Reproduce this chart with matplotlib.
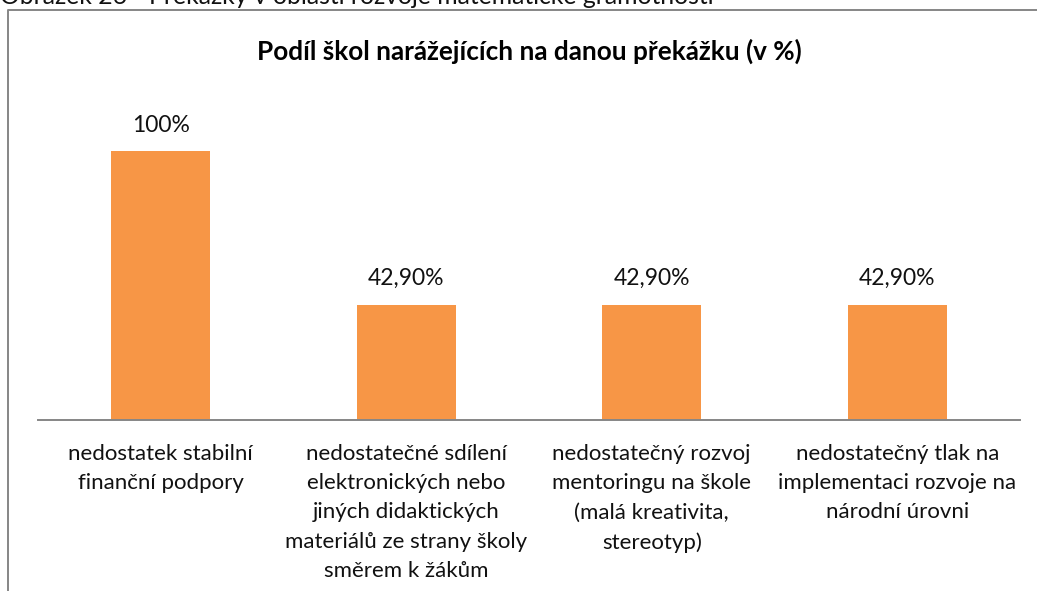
import matplotlib
matplotlib.use('Agg')
import matplotlib.pyplot as plt
from matplotlib.lines import Line2D

plt.rcParams['font.family'] = ['Lato', 'DejaVu Sans']

CAPTION = 'Obrázek 26 - Překážky v oblasti rozvoje matematické gramotnosti'
TITLE = 'Podíl škol narážejících na danou překážku (v %)'
categories = [
    'nedostatek stabilní\nfinanční podpory',
    'nedostatečné sdílení\nelektronických nebo\njiných didaktických\nmateriálů ze strany školy\nsměrem k žákům',
    'nedostatečný rozvoj\nmentoringu na škole\n(malá kreativita,\nstereotyp)',
    'nedostatečný tlak na\nimplementaci rozvoje na\nnárodní úrovni',
]
values = [100, 42.9, 42.9, 42.9]
value_labels = ['100%', '42,90%', '42,90%', '42,90%']

BAR_COLOR = '#F79646'
GREY = '#868686'
W, H = 1037, 591

fig = plt.figure(figsize=(W / 100, H / 100), dpi=100)

# outer frame of the chart object (cut off at right and bottom)
fig.add_artist(Line2D([8 / W, 8 / W, 1.0], [0.0, 1 - 10 / H, 1 - 10 / H],
                      transform=fig.transFigure, color=GREY, lw=1.4))
fig.text(0 / W, 1 - 4 / H, CAPTION, fontsize=17.8, ha='left', va='baseline', color='#111111')
fig.text(529 / W, 1 - 51 / H, TITLE, fontsize=18.8, fontweight='bold', ha='center', va='center')

ax = fig.add_axes([38 / W, (H - 420) / H, 982 / W, 323 / H])
x = range(len(values))
bars = ax.bar(x, values, width=0.403, color=BAR_COLOR)
ax.set_xlim(-0.5, len(values) - 0.5)
ax.set_ylim(0, 120)

for b, lab in zip(bars, value_labels):
    ax.annotate(lab, (b.get_x() + b.get_width() / 2, b.get_height()),
                xytext=(0, 11), textcoords='offset points',
                ha='center', va='bottom', fontsize=16.5, color='#111111')

ax.set_xticks(list(x))
ax.set_xticklabels(categories, fontsize=16, linespacing=1.59, color='#111111')
ax.tick_params(axis='x', length=0, pad=17)
ax.set_yticks([])
for s in ['left', 'right', 'top']:
    ax.spines[s].set_visible(False)
ax.spines['bottom'].set_color(GREY)
ax.spines['bottom'].set_linewidth(1.4)

fig.savefig('out.png', dpi=100)
